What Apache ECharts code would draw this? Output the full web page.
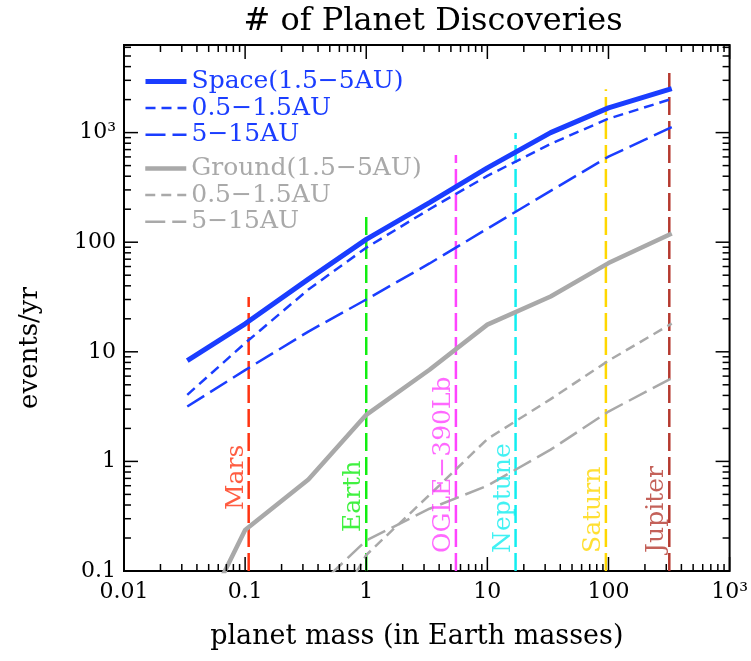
<!DOCTYPE html>
<html>
<head>
<meta charset="utf-8">
<script src="https://cdn.jsdelivr.net/npm/echarts@6/dist/echarts.min.js"></script>
<style>
html,body{margin:0;padding:0;background:#fff;}
#chart{width:751px;height:661px;}
</style>
</head>
<body>
<div id="chart"></div>
<script>
// ---------------- data ----------------
const massX = [0.0333, 0.1, 0.333, 1, 3.33, 10, 33.3, 100, 333];
const spaceMid   = [8.3, 18, 46, 106, 230, 477, 1000, 1680, 2520];
const spaceInner = [4.05, 12, 37, 89, 200, 403, 790, 1340, 2030];
const spaceOuter = [3.17, 6.8, 15.3, 30, 64, 133, 294, 604, 1120];
const groundMid   = [0.02, 0.237, 0.685, 2.66, 6.86, 17.7, 32, 64.5, 120];
const groundInner = [null, null, 0.017, 0.14, 0.495, 1.6, 3.7, 8.3, 18.1];
const groundOuter = [null, null, 0.06, 0.19, 0.37, 0.6, 1.28, 2.85, 5.75];

const seriesNames = ['Space(1.5\u22125AU)', '0.5\u22121.5AU', '5\u221215AU',
                     'Ground(1.5\u22125AU)', '0.5\u22121.5AU ', '5\u221215AU '];

const planetNames  = ['Mars', 'Earth', 'OGLE\u2212390Lb', 'Neptune', 'Saturn', 'Jupiter'];
const planetMasses = [0.107, 1, 5.5, 17.1, 95.2, 317.8];
const planetLineTop = [31.7, 188, 625, 990, 2490, 3940];
const planetLabelBase = [0.36, 0.227, 0.146, 0.146, 0.146, 0.146];

const xTickValues = [0.01, 0.1, 1, 10, 100, 1000];
const xTickLabels = ['0.01', '0.1', '1', '10', '100', '10\u00b3'];
const yTickValues = [0.1, 1, 10, 100, 1000];
const yTickLabels = ['0.1', '1', '10', '100', '10\u00b3'];

const xMin = 0.01, xMax = 1000, yMin = 0.1, yMax = 6300;
const titleText = '# of Planet Discoveries';
const xName = 'planet mass (in Earth masses)';
const yName = 'events/yr';

// ---------------- styles ----------------
const FONT = 'DejaVu Serif';
const BLUE = '#1a3dff';
const GRAY = '#a9a9a9';
const planetColors = ['#ff3311', '#11ee11', '#ff44ff', '#11eef0', '#ffd700', '#b5392f'];

function pairs(xs, ys) {
  const out = [];
  xs.forEach((x, i) => { if (ys[i] != null) out.push([x, ys[i]]); });
  return out;
}

function minorValues(lo, hi) {
  const out = [];
  for (let e = Math.floor(Math.log10(lo)); e <= Math.ceil(Math.log10(hi)); e++) {
    for (let k = 1; k <= 9; k++) {
      const v = k * Math.pow(10, e);
      if (v >= lo * 0.9999 && v <= hi * 1.0001) out.push(v);
    }
  }
  return out;
}
function isMajor(v) {
  const l = Math.log10(v);
  return Math.abs(l - Math.round(l)) < 1e-6;
}
function labelFor(values, labels) {
  return function (v) {
    for (let i = 0; i < values.length; i++) {
      if (Math.abs(Math.log10(v) - Math.log10(values[i])) < 1e-6) return labels[i];
    }
    return '';
  };
}

const MAJOR = 14, MINOR = 7;
function xTickRender(params, api) {
  const cs = params.coordSys;
  const v = api.value(0);
  const px = api.coord([v, 1])[0];
  const len = isMajor(v) ? MAJOR : MINOR;
  const b = cs.y + cs.height, t = cs.y;
  const st = { stroke: '#000', lineWidth: 1.5 };
  return { type: 'group', children: [
    { type: 'line', shape: { x1: px, y1: b, x2: px, y2: b - len }, style: st },
    { type: 'line', shape: { x1: px, y1: t, x2: px, y2: t + len }, style: st }
  ]};
}
function yTickRender(params, api) {
  const cs = params.coordSys;
  const v = api.value(1);
  const py = api.coord([1, v])[1];
  const len = isMajor(v) ? MAJOR : MINOR;
  const l = cs.x, r = cs.x + cs.width;
  const st = { stroke: '#000', lineWidth: 1.5 };
  return { type: 'group', children: [
    { type: 'line', shape: { x1: l, y1: py, x2: l + len, y2: py }, style: st },
    { type: 'line', shape: { x1: r, y1: py, x2: r - len, y2: py }, style: st }
  ]};
}

const dataLines = [
  { name: seriesNames[0], ys: spaceMid,   color: BLUE, width: 5,   type: 'solid' },
  { name: seriesNames[1], ys: spaceInner, color: BLUE, width: 2.5, type: [10, 6] },
  { name: seriesNames[2], ys: spaceOuter, color: BLUE, width: 2.5, type: [20, 7] },
  { name: seriesNames[3], ys: groundMid,   color: GRAY, width: 4.5, type: 'solid' },
  { name: seriesNames[4], ys: groundInner, color: GRAY, width: 2.5, type: [10, 6] },
  { name: seriesNames[5], ys: groundOuter, color: GRAY, width: 2.5, type: [20, 7] }
];

const series = [];
planetNames.forEach((n, i) => {
  series.push({
    type: 'line', name: 'ref_' + n, symbol: 'none', silent: true, z: 1,
    data: [[planetMasses[i], yMin], [planetMasses[i], planetLineTop[i]]],
    lineStyle: { color: planetColors[i], width: 2.5, type: [18, 6] }
  });
});
dataLines.forEach(d => {
  series.push({
    type: 'line', name: d.name, symbol: 'none', silent: true, z: 3,
    data: pairs(massX, d.ys),
    itemStyle: { color: d.color },
    lineStyle: { color: d.color, width: d.width, type: d.type }
  });
});
series.push({
  type: 'scatter', name: 'planetLabels', symbolSize: 0, silent: true, z: 4,
  data: planetNames.map((n, i) => ({
    value: [planetMasses[i], planetLabelBase[i]],
    label: { color: planetColors[i] }
  })),
  label: {
    show: true, position: 'inside', rotate: 90, align: 'left', verticalAlign: 'bottom',
    fontFamily: FONT, fontSize: 25,
    formatter: p => planetNames[p.dataIndex]
  }
});
series.push({
  type: 'custom', name: 'xticks', silent: true, clip: false, z: 5,
  renderItem: xTickRender,
  data: minorValues(xMin, xMax).map(v => [v, 1])
});
series.push({
  type: 'custom', name: 'yticks', silent: true, clip: false, z: 5,
  renderItem: yTickRender,
  data: minorValues(yMin, yMax).map(v => [1, v])
});

function legendItems(from) {
  return dataLines.slice(from, from + 3).map(d => ({
    name: d.name,
    textStyle: { color: d.color },
    lineStyle: { width: d.width, type: d.type, color: d.color }
  }));
}
const legendCommon = {
  orient: 'vertical', left: 143, itemWidth: 41, itemHeight: 14, itemGap: 1.6,
  padding: 0, selectedMode: false,
  itemStyle: { opacity: 0 },
  textStyle: { fontFamily: FONT, fontSize: 25, lineHeight: 25 }
};

const grid = { left: 124, top: 45, width: 608, height: 526 };

const option = {
  animation: false,
  backgroundColor: '#fff',
  title: {
    text: titleText, left: grid.left + grid.width / 2, textAlign: 'center', top: 1,
    textStyle: { fontFamily: FONT, fontSize: 32, fontWeight: 'normal', color: '#000' }
  },
  legend: [
    Object.assign({}, legendCommon, { top: 69, data: legendItems(0) }),
    Object.assign({}, legendCommon, { top: 156, data: legendItems(3) })
  ],
  grid: Object.assign({ show: true, borderColor: '#000', borderWidth: 2, containLabel: false }, grid),
  xAxis: {
    type: 'log', logBase: 10, min: xMin, max: xMax,
    axisLine: { show: false }, axisTick: { show: false }, splitLine: { show: false },
    axisLabel: { formatter: labelFor(xTickValues, xTickLabels), fontFamily: FONT, fontSize: 22, color: '#000', margin: 10 },
    name: xName, nameLocation: 'middle', nameGap: 52,
    nameTextStyle: { fontFamily: FONT, fontSize: 27, color: '#000', padding: [0, 20, 0, 0] }
  },
  yAxis: {
    type: 'log', logBase: 10, min: yMin, max: yMax,
    axisLine: { show: false }, axisTick: { show: false }, splitLine: { show: false },
    axisLabel: { formatter: labelFor(yTickValues, yTickLabels), fontFamily: FONT, fontSize: 22, color: '#000', margin: 8 },
    name: yName, nameLocation: 'middle', nameGap: 81,
    nameTextStyle: { fontFamily: FONT, fontSize: 26, color: '#000', padding: [0, 80, 0, 0] }
  },
  series: series
};

const chart = echarts.init(document.getElementById('chart'), null, { renderer: 'canvas' });
chart.setOption(option);
</script>
</body>
</html>
